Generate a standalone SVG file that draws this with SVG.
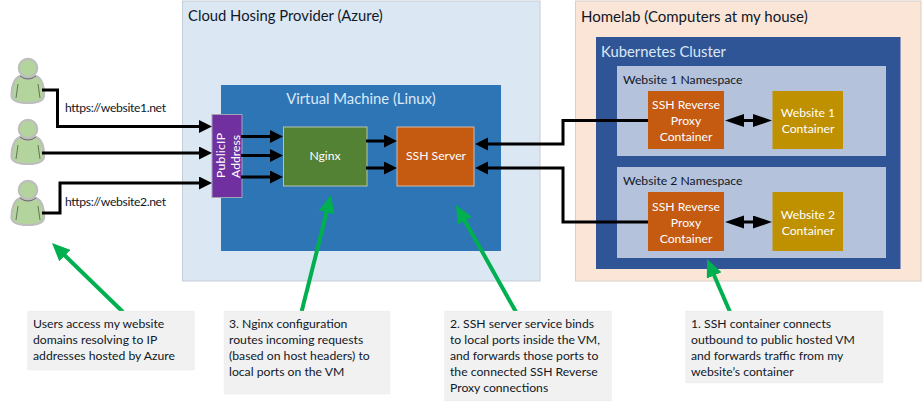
<svg xmlns="http://www.w3.org/2000/svg" width="924" height="403" viewBox="0 0 924 403">
<style>
text{font-family:"Lato","Carlito","Liberation Sans",sans-serif;font-size:12.2px;fill:#fff}
.d{fill:#101828}
.m{text-anchor:middle}
.t{font-size:14.8px}
.c{fill:none;stroke:#000;stroke-width:3}
.g{fill:none;stroke:#00b050;stroke-width:4}
.note{fill:#f1f1f1;stroke:#e6e6e6;stroke-width:.5;stroke-dasharray:1 1}
.skin{fill:#b3d49d;stroke:#bdbdbd;stroke-width:2.200}
.line{fill:none;stroke:#4f5b48;stroke-width:.8}
</style>
<defs>
<marker id="a" markerUnits="userSpaceOnUse" markerWidth="14" markerHeight="14" refX="7" refY="6.500" orient="auto"><path d="M0 0L13 6.500L0 13z" fill="#000"/></marker>
<marker id="e" markerUnits="userSpaceOnUse" markerWidth="20" markerHeight="14" refX="13" refY="6.500" orient="auto-start-reverse"><path d="M0 0L19 6.500L0 13z" fill="#000"/></marker>
<marker id="b" markerUnits="userSpaceOnUse" markerWidth="20" markerHeight="16" refX="10" refY="8" orient="auto"><path d="M0 0L18 8L0 16z" fill="#00b050"/></marker>
<g id="p"><path class="skin" d="M11.500 95C11.500 85 15 78 20 76Q28 82 36 76C41 78 44 85 44 95C44 101 38 103 28 103C18 103 11.500 101 11.500 95z"/><circle class="skin" cx="28" cy="68" r="9.200"/><path class="line" d="M20 76Q28 82 36 76M18 84L16 98M38 84L40 98"/></g>
</defs>
<g id="azure"><rect x="182.500" y="1" width="357.500" height="280" fill="#dce7f4" stroke="#c5cdd6"/><text x="188" y="21" class="d t">Cloud Hosing Provider (Azure)</text></g>
<g id="vm"><rect x="221" y="85" width="280" height="166" fill="#2e75b6"/><text x="361" y="104" class="m t" style="fill:#dbe9f6">Virtual Machine (Linux)</text></g>
<g id="homelab"><rect x="575.500" y="1" width="345.500" height="280" fill="#fbe5d6" stroke="#d5d0cb"/><text x="581" y="22" class="d t" style="font-size:15px">Homelab (Computers at my house)</text></g>
<g id="k8s"><rect x="596" y="37" width="304.500" height="232" fill="#2f5597"/><text x="601" y="57" class="t" style="fill:#dbe9f6">Kubernetes Cluster</text></g>
<g id="ns1"><rect x="617" y="66" width="269" height="90" fill="#b4c2db"/><text x="623" y="84" class="d">Website 1 Namespace</text></g>
<g id="ns2"><rect x="617" y="167" width="269" height="91" fill="#b4c2db"/><text x="623" y="185" class="d">Website 2 Namespace</text></g>
<g id="public-ip"><rect x="212" y="114.500" width="30" height="83" fill="#7030a0" stroke="#a3a3b8"/><text transform="translate(225 155.500) rotate(-90)" class="m" textLength="45">PublicIP</text><text transform="translate(240 156.500) rotate(-90)" class="m" textLength="43">Address</text></g>
<g id="nginx"><rect x="283.500" y="127" width="83.500" height="59" fill="#548235" stroke="#b5c4ae"/><text x="325" y="160" class="m">Nginx</text></g>
<g id="ssh-server"><rect x="397" y="127" width="77" height="59" fill="#c55a11" stroke="#d5b9a5"/><text x="436" y="160" class="m">SSH Server</text></g>
<g id="proxy1"><rect x="648" y="91" width="76" height="58" fill="#c55a11"/><text x="686" y="109" class="m">SSH Reverse</text><text x="686" y="125" class="m">Proxy</text><text x="686" y="141" class="m">Container</text></g>
<g id="proxy2"><rect x="648" y="192" width="76" height="59" fill="#c55a11"/><text x="686" y="211" class="m">SSH Reverse</text><text x="686" y="227" class="m">Proxy</text><text x="686" y="243" class="m">Container</text></g>
<g id="site1"><rect x="772.500" y="91" width="70.500" height="58" fill="#bf9000"/><text x="808" y="117" class="m">Website 1</text><text x="808" y="133" class="m">Container</text></g>
<g id="site2"><rect x="772.500" y="192" width="70.500" height="59" fill="#bf9000"/><text x="808" y="219" class="m">Website 2</text><text x="808" y="235" class="m">Container</text></g>
<g id="user1"><use href="#p"/></g>
<g id="user2"><use href="#p" y="61"/></g>
<g id="user3"><use href="#p" y="122"/></g>
<g id="connectors">
<path class="c" marker-end="url(#a)" d="M42 90H57.500V126.500H206"/>
<path class="c" marker-end="url(#a)" d="M42 153H206"/>
<path class="c" marker-end="url(#a)" d="M42 213H60V183H206"/>
<path class="c" marker-end="url(#a)" d="M241 136.500H277"/>
<path class="c" marker-end="url(#a)" d="M241 155.500H277"/>
<path class="c" marker-end="url(#a)" d="M241 177H277"/>
<path class="c" marker-end="url(#a)" d="M366 141H391"/>
<path class="c" marker-end="url(#a)" d="M366 168H391"/>
<path class="c" marker-end="url(#a)" d="M648 120.500H563V144H481"/>
<path class="c" marker-end="url(#a)" d="M648 222H563V168H481"/>
<path class="c" marker-start="url(#e)" marker-end="url(#e)" d="M731 120.500H766"/>
<path class="c" marker-start="url(#e)" marker-end="url(#e)" d="M731 222H766"/>
<path class="g" marker-end="url(#b)" d="M123 312L57.700 248.600"/>
<path class="g" marker-end="url(#b)" d="M301.500 312L329 202.800"/>
<path class="g" marker-end="url(#b)" d="M516 312L459.900 212"/>
<path class="g" marker-end="url(#b)" d="M730 312L710.200 266.300"/>
</g>
<g id="label-site1"><text x="65" y="112" class="d" textLength="101">https://website1.net</text></g>
<g id="label-site2"><text x="65" y="206" class="d" textLength="101">https://website2.net</text></g>
<g id="note-users"><rect class="note" x="27.500" y="311" width="167" height="59"/><text x="33" y="328" class="d">Users access my website</text><text x="33" y="344" class="d">domains resolving to IP</text><text x="33" y="360" class="d">addresses hosted by Azure</text></g>
<g id="note-3"><rect class="note" x="224" y="311" width="166" height="83"/><text x="229" y="328" class="d">3. Nginx configuration</text><text x="229" y="344" class="d">routes incoming requests</text><text x="229" y="360" class="d">(based on host headers) to</text><text x="229" y="376" class="d">local ports on the VM</text></g>
<g id="note-2"><rect class="note" x="444.500" y="311" width="167" height="90"/><text x="450" y="328" class="d">2. SSH server service binds</text><text x="450" y="344" class="d">to local ports inside the VM,</text><text x="450" y="360" class="d">and forwards those ports to</text><text x="450" y="376" class="d">the connected SSH Reverse</text><text x="450" y="392" class="d">Proxy connections</text></g>
<g id="note-1"><rect class="note" x="685.500" y="311" width="197.500" height="72"/><text x="691" y="328" class="d">1. SSH container connects</text><text x="691" y="344" class="d">outbound to public hosted VM</text><text x="691" y="360" class="d">and forwards traffic from my</text><text x="691" y="376" class="d">website’s container</text></g>
</svg>
